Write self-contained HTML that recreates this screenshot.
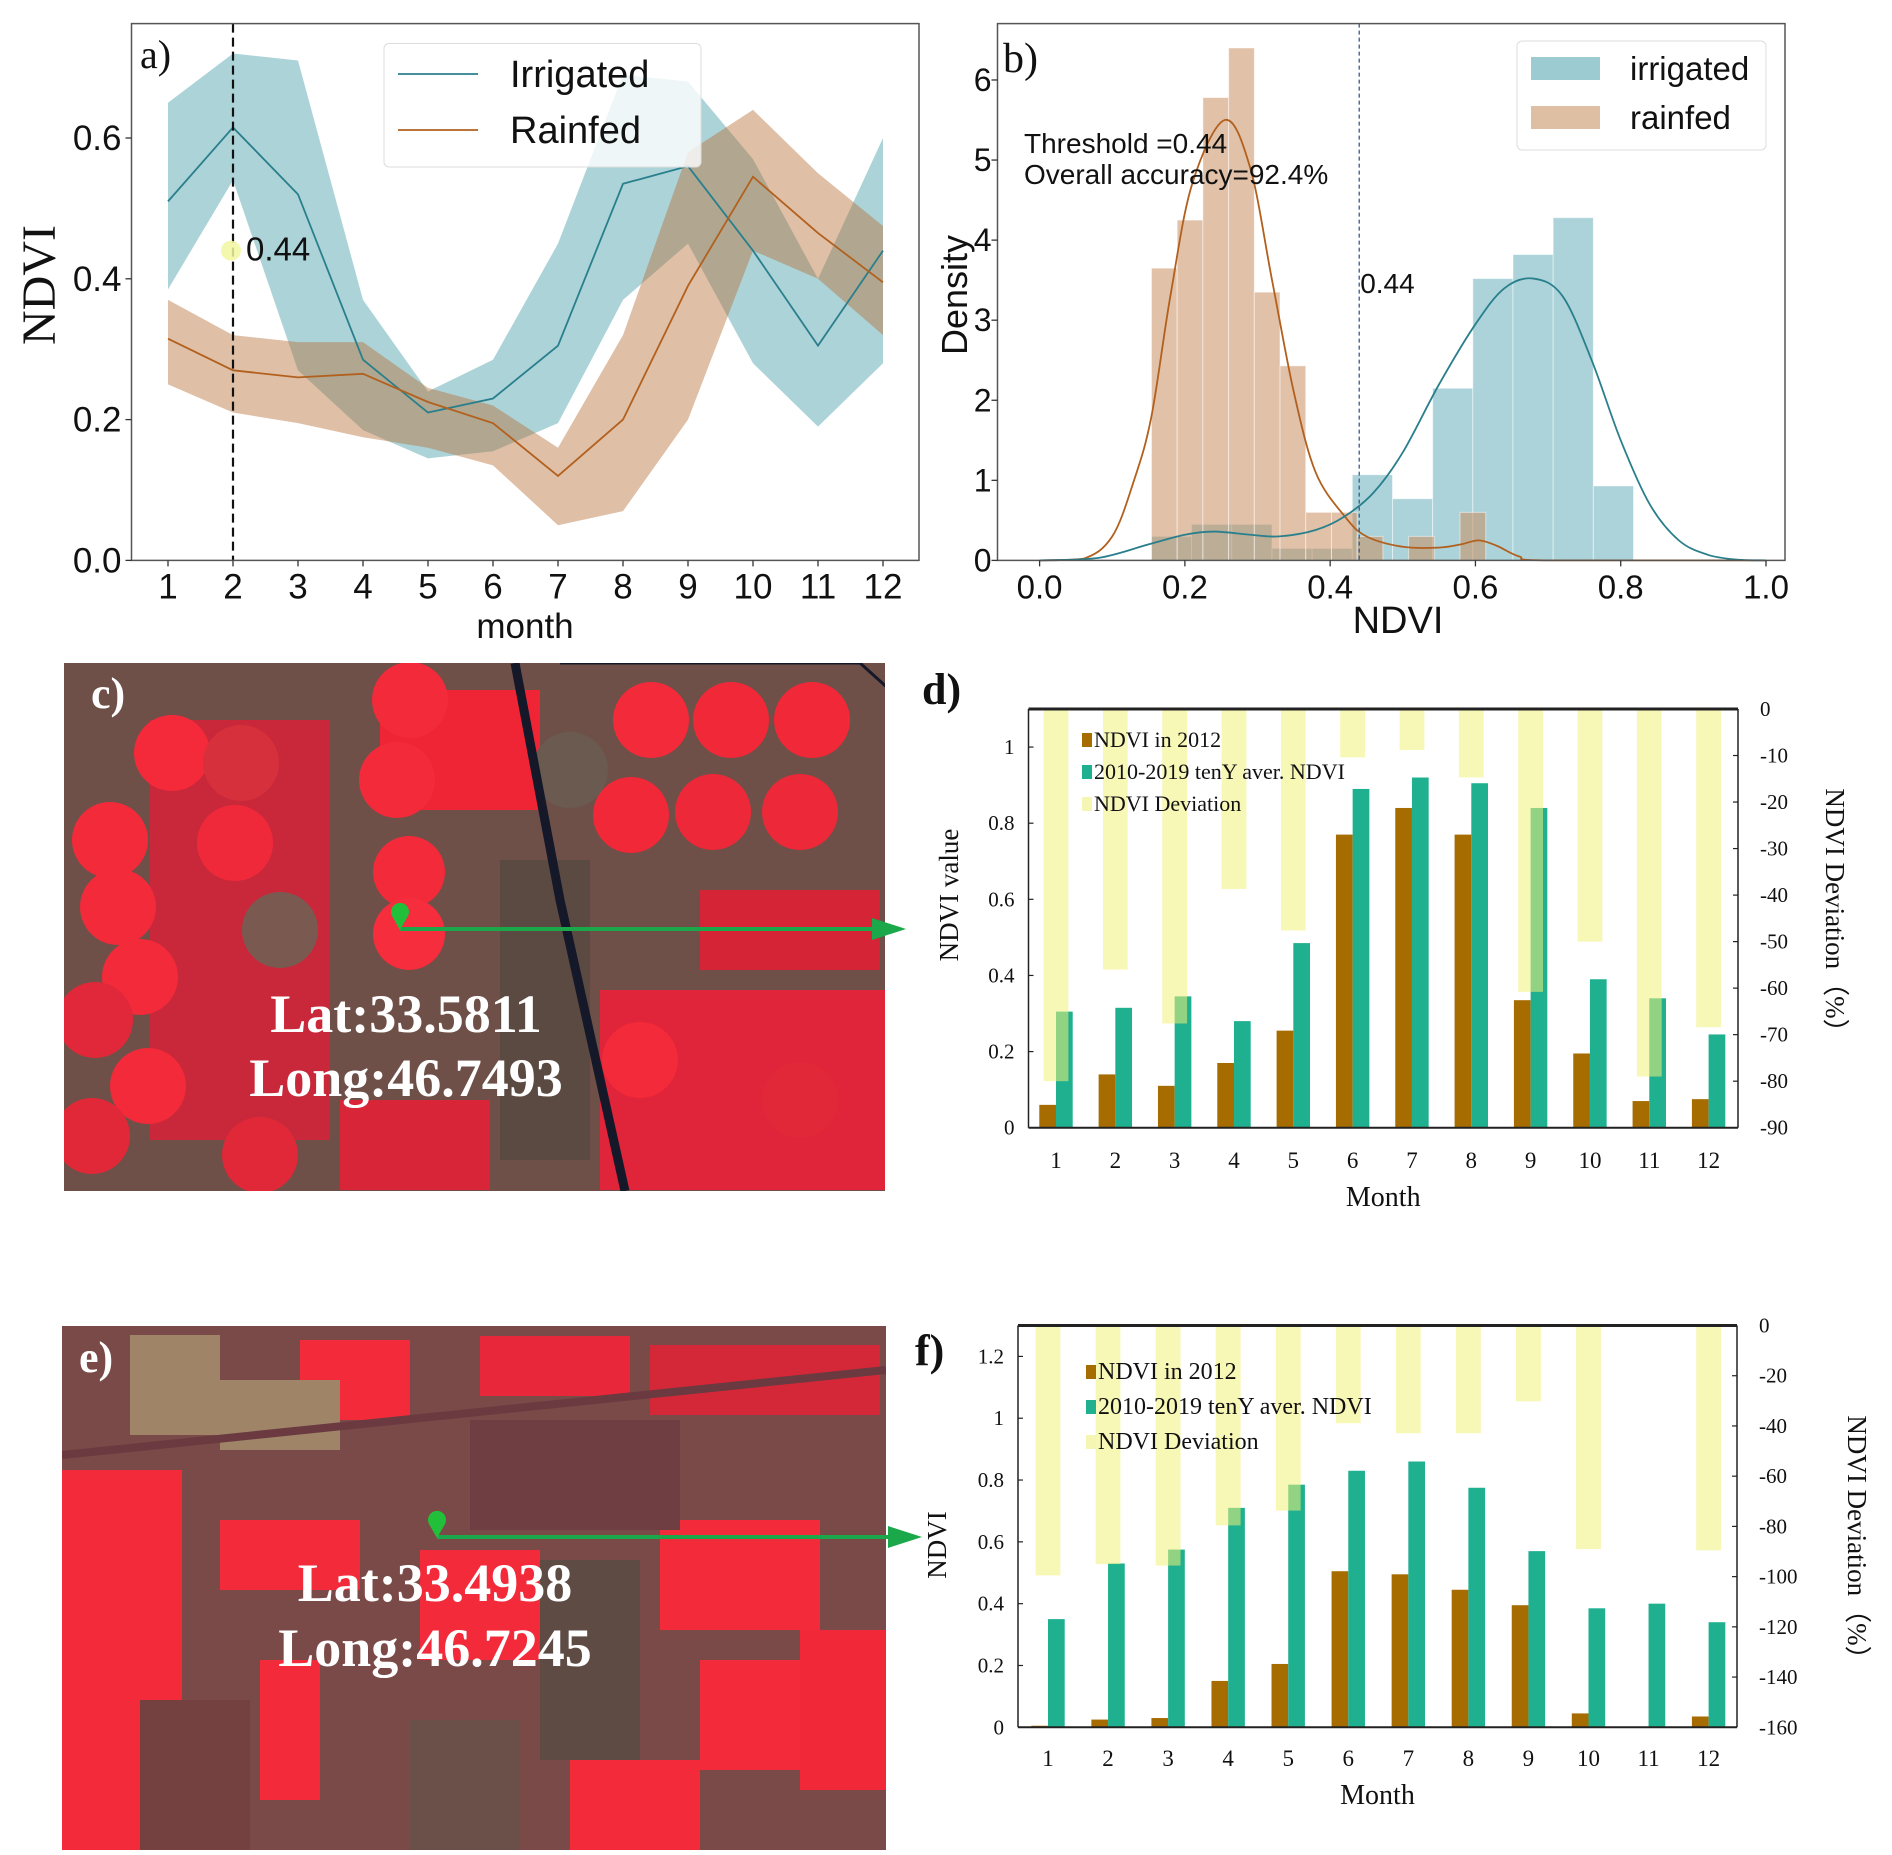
<!DOCTYPE html>
<html><head><meta charset="utf-8">
<style>
html,body{margin:0;padding:0;background:#fff;}
svg{display:block;}
.sans{font-family:"Liberation Sans",sans-serif;}
.serif{font-family:"Liberation Serif",serif;}
</style></head>
<body>
<svg id="root" xmlns="http://www.w3.org/2000/svg" width="1892" height="1855" viewBox="0 0 1892 1855">
<defs>
<clipPath id="clipC"><rect x="64" y="663" width="821" height="528"/></clipPath>
<clipPath id="clipE"><rect x="62" y="1326" width="824" height="524"/></clipPath>
</defs>
<!-- Photo c -->
<g clip-path="url(#clipC)">
<rect x="64" y="663" width="821" height="528" fill="#6e5048"/>
<rect x="150" y="720" width="180" height="420" fill="#c8283a"/>
<rect x="380" y="690" width="160" height="120" fill="#ef2536"/>
<rect x="500" y="860" width="90" height="300" fill="#5a4a42"/>
<rect x="700" y="890" width="180" height="80" fill="#d42435"/>
<rect x="600" y="990" width="290" height="200" fill="#e0243a"/>
<rect x="340" y="1100" width="150" height="90" fill="#d82538"/>
<circle cx="172" cy="753" r="38" fill="#f42a3a"/><circle cx="241" cy="763" r="38" fill="#d5303b"/>
<circle cx="235" cy="843" r="38" fill="#f0293a"/><circle cx="110" cy="840" r="38" fill="#f22a3a"/>
<circle cx="118" cy="907" r="38" fill="#f22a3a"/><circle cx="140" cy="977" r="38" fill="#f22a3a"/>
<circle cx="95" cy="1020" r="38" fill="#e0283a"/><circle cx="148" cy="1086" r="38" fill="#f22a3a"/>
<circle cx="92" cy="1136" r="38" fill="#e02838"/><circle cx="260" cy="1155" r="38" fill="#e02838"/>
<circle cx="397" cy="780" r="38" fill="#f22a3a"/><circle cx="410" cy="700" r="38" fill="#f22a3a"/>
<circle cx="409" cy="872" r="36" fill="#f22a3a"/><circle cx="409" cy="934" r="36" fill="#f52d3c"/>
<circle cx="651" cy="720" r="38" fill="#f22a3a"/><circle cx="731" cy="720" r="38" fill="#f02838"/>
<circle cx="812" cy="720" r="38" fill="#f02838"/><circle cx="631" cy="815" r="38" fill="#f02838"/>
<circle cx="713" cy="812" r="38" fill="#ed2838"/><circle cx="800" cy="812" r="38" fill="#ed2838"/>
<circle cx="640" cy="1060" r="38" fill="#f22a3a"/><circle cx="800" cy="1100" r="38" fill="#e02838"/>
<circle cx="570" cy="770" r="38" fill="#6a5a50"/><circle cx="280" cy="930" r="38" fill="#7a5a50"/>
<path d="M515 663 L560 900 L625 1191" stroke="#141828" stroke-width="9" fill="none"/>
<path d="M560 663 L860 663 L890 690" stroke="#141828" stroke-width="3" fill="none"/>
</g>
<!-- Photo e -->
<g clip-path="url(#clipE)">
<rect x="62" y="1326" width="824" height="524" fill="#7a4a48"/>
<rect x="130" y="1335" width="90" height="100" fill="#a08468"/>
<rect x="300" y="1340" width="110" height="80" fill="#f22a3a"/>
<rect x="220" y="1380" width="120" height="70" fill="#a08468"/>
<rect x="480" y="1336" width="150" height="60" fill="#e8283a"/>
<rect x="650" y="1345" width="230" height="70" fill="#d42838"/>
<rect x="62" y="1470" width="120" height="380" fill="#f22a3a"/>
<rect x="220" y="1520" width="140" height="70" fill="#f22a3a"/>
<rect x="420" y="1550" width="120" height="110" fill="#f22a3a"/>
<rect x="540" y="1560" width="100" height="200" fill="#5e4c44"/>
<rect x="660" y="1520" width="160" height="110" fill="#f22a3a"/>
<rect x="700" y="1660" width="110" height="110" fill="#f22a3a"/>
<rect x="570" y="1760" width="130" height="90" fill="#f22a3a"/>
<rect x="800" y="1630" width="86" height="160" fill="#f02838"/>
<rect x="260" y="1660" width="60" height="140" fill="#f22a3a"/>
<rect x="410" y="1720" width="110" height="130" fill="#6a5048"/>
<rect x="140" y="1700" width="110" height="150" fill="#744040"/>
<rect x="470" y="1420" width="210" height="110" fill="#6e3e42"/>
<path d="M62 1455 L886 1370" stroke="#6a3a40" stroke-width="8" fill="none"/>
</g>
<!-- Photo overlays -->
<text x="91" y="708" class="serif" font-size="44" font-weight="bold" fill="#fff">c)</text>
<text x="406" y="1032" class="serif" font-size="54" font-weight="bold" fill="#fff" text-anchor="middle">Lat:33.5811</text>
<text x="406" y="1096" class="serif" font-size="54" font-weight="bold" fill="#fff" text-anchor="middle">Long:46.7493</text>
<line x1="400" y1="929" x2="880" y2="929" stroke="#1aa84a" stroke-width="4"/>
<polygon points="872,918 906,929 872,940" fill="#1aa84a"/>
<path d="M400 930 L392 916 A9 9 0 1 1 408 916 Z" fill="#22c03a"/>
<text x="79" y="1372" class="serif" font-size="44" font-weight="bold" fill="#fff">e)</text>
<text x="435" y="1601" class="serif" font-size="54" font-weight="bold" fill="#fff" text-anchor="middle">Lat:33.4938</text>
<text x="435" y="1666" class="serif" font-size="54" font-weight="bold" fill="#fff" text-anchor="middle">Long:46.7245</text>
<line x1="437" y1="1537" x2="895" y2="1537" stroke="#1aa84a" stroke-width="4"/>
<polygon points="888,1526 922,1537 888,1548" fill="#1aa84a"/>
<path d="M437 1538 L429 1524 A9 9 0 1 1 445 1524 Z" fill="#22c03a"/>
<g id="gA"></g>
<g id="gB"></g>
<g id="gD"></g>
<g id="gF"></g>
</svg>
<script>
// ---------- Panel a data ----------
const monthsA = [1,2,3,4,5,6,7,8,9,10,11,12];
const irrMean = [0.51,0.615,0.52,0.285,0.21,0.23,0.305,0.535,0.56,0.44,0.305,0.44];
const irrUpper = [0.65,0.72,0.71,0.37,0.24,0.285,0.45,0.69,0.68,0.57,0.40,0.60];
const irrLower = [0.385,0.54,0.27,0.185,0.145,0.155,0.195,0.37,0.45,0.28,0.19,0.28];
const rfMean = [0.315,0.27,0.26,0.265,0.225,0.195,0.12,0.20,0.39,0.545,0.465,0.395];
const rfUpper = [0.37,0.32,0.31,0.31,0.245,0.22,0.16,0.32,0.58,0.64,0.55,0.475];
const rfLower = [0.25,0.21,0.195,0.175,0.16,0.135,0.05,0.07,0.20,0.44,0.40,0.32];
const ticksAy = [0.0,0.2,0.4,0.6];
const thresholdA = 0.44;
// ---------- Panel b data ----------
const irrBinStart = 0.154, irrBinWidth = 0.0553;
const irrHist = [0.3,0.45,0.45,0.15,0.15,1.07,0.77,2.15,3.52,3.82,4.28,0.93];
const rfBinStart = 0.154, rfBinWidth = 0.0354;
const rfHist = [3.65,4.25,5.78,6.4,3.35,2.43,0.6,0.6,0.3,0,0.3,0,0.6];
const rfKdeX = [0,0.06,0.10,0.13,0.154,0.18,0.21,0.255,0.29,0.32,0.35,0.38,0.42,0.45,0.50,0.55,0.58,0.605,0.63,0.66,0.70,1.0];
const rfKdeY = [0,0.02,0.3,1.0,1.8,3.3,4.7,5.5,4.9,3.5,2.1,1.1,0.55,0.3,0.17,0.16,0.2,0.25,0.18,0.05,0,0];
const irKdeX = [0,0.08,0.15,0.2,0.24,0.29,0.33,0.38,0.42,0.46,0.5,0.55,0.6,0.64,0.68,0.72,0.76,0.8,0.84,0.88,0.92,0.96,1.0];
const irKdeY = [0,0.03,0.2,0.32,0.36,0.32,0.3,0.38,0.55,0.85,1.35,2.2,2.95,3.4,3.52,3.3,2.5,1.5,0.7,0.25,0.07,0.01,0];
const ticksBx = [0.0,0.2,0.4,0.6,0.8,1.0];
const ticksBy = [0,1,2,3,4,5,6];
const thresholdB = 0.44;
// ---------- Panel d data ----------
const monthsD = [1,2,3,4,5,6,7,8,9,10,11,12];
const ndvi2012D = [0.06,0.14,0.11,0.17,0.255,0.77,0.84,0.77,0.335,0.195,0.07,0.075];
const tenYD = [0.305,0.315,0.345,0.28,0.485,0.89,0.92,0.905,0.84,0.39,0.34,0.245];
const devD = [-80,-56,-67.6,-38.7,-47.6,-10.4,-8.8,-14.7,-60.8,-50,-79,-68.4];
const ticksDl = [0,0.2,0.4,0.6,0.8,1];
const ticksDr = [0,-10,-20,-30,-40,-50,-60,-70,-80,-90];
// ---------- Panel f data ----------
const monthsF = [1,2,3,4,5,6,7,8,9,10,11,12];
const ndvi2012F = [0.005,0.025,0.03,0.15,0.205,0.505,0.495,0.445,0.395,0.045,0,0.035];
const tenYF = [0.35,0.53,0.575,0.71,0.785,0.83,0.86,0.775,0.57,0.385,0.4,0.34];
const devF = [-99.5,-95,-95.6,-79.6,-73.7,-38.9,-42.9,-42.9,-30.2,-89,0,-89.5];
const ticksFl = [0,0.2,0.4,0.6,0.8,1,1.2];
const ticksFr = [0,-20,-40,-60,-80,-100,-120,-140,-160];

const NS = "http://www.w3.org/2000/svg";
function mk(parent, tag, attrs, text){
  const e = document.createElementNS(NS, tag);
  for (const k in attrs) e.setAttribute(k, attrs[k]);
  if (text !== undefined) e.textContent = text;
  parent.appendChild(e);
  return e;
}

// ================= Panel a =================
(function(){
  const g = document.getElementById('gA');
  const L=131.5,R=919,T=23.6,B=560.4;
  const x = m => 168 + (m-1)*(883-168)/11;
  const y = v => B - v*(B-138)/0.6;
  const band = (up, lo) => monthsA.map((m,i)=>x(m)+','+y(up[i])).join(' ') + ' ' + monthsA.slice().reverse().map((m,j)=>{const i=monthsA.length-1-j;return x(m)+','+y(lo[i]);}).join(' ');
  let e = mk(g,'polygon',{points:band(irrUpper,irrLower),fill:'#3a95a2','fill-opacity':0.42});
  
  
  e = mk(g,'polygon',{points:band(rfUpper,rfLower),fill:'#b8703a','fill-opacity':0.45});
  
  
  e = mk(g,'polyline',{points:monthsA.map((m,i)=>x(m)+','+y(irrMean[i])).join(' '),fill:'none',stroke:'#2a7f8c','stroke-width':1.8});
  
  
  e = mk(g,'polyline',{points:monthsA.map((m,i)=>x(m)+','+y(rfMean[i])).join(' '),fill:'none',stroke:'#b2601e','stroke-width':1.8});
  
  
  e = mk(g,'line',{x1:x(2),x2:x(2),y1:T,y2:B,stroke:'#111','stroke-width':2.2,'stroke-dasharray':'9,5'});
  
  
  e = mk(g,'circle',{cx:x(2)-2,cy:y(thresholdA),r:10,fill:'#f2f7a0','fill-opacity':0.85});
  
  
  e = mk(g,'text',{x:x(2)+13,y:y(thresholdA)+10,'font-size':33,class:'sans',fill:'#111'},'0.44');
  
  
  e = mk(g,'rect',{x:L,y:T,width:R-L,height:B-T,fill:'none',stroke:'#555','stroke-width':1.5});
  
  
  ticksAy.forEach(v=>{
    mk(g,'line',{x1:L-6,x2:L,y1:y(v),y2:y(v),stroke:'#333','stroke-width':1.3});
    e = mk(g,'text',{x:L-10,y:y(v)+12,'font-size':35,'text-anchor':'end',class:'sans',fill:'#111'},v.toFixed(1));
    
    
  });
  monthsA.forEach(m=>{
    mk(g,'line',{x1:x(m),x2:x(m),y1:B,y2:B+6,stroke:'#333','stroke-width':1.3});
    e = mk(g,'text',{x:x(m),y:B+38,'font-size':35,'text-anchor':'middle',class:'sans',fill:'#111'},String(m));
    
    
  });
  e = mk(g,'text',{x:525,y:638,'font-size':35,'text-anchor':'middle',class:'sans',fill:'#111'},'month');
  
  
  e = mk(g,'text',{x:0,y:0,'font-size':48,'text-anchor':'middle',class:'serif',fill:'#111',transform:'translate(55,285) rotate(-90)'},'NDVI');
  
  
  e = mk(g,'text',{x:140,y:68,'font-size':40,class:'serif',fill:'#111'},'a)');
  
  
  e = mk(g,'rect',{x:384,y:43.5,width:317,height:123.5,rx:5,fill:'#fff','fill-opacity':0.8,stroke:'#ddd'});
  
  
  mk(g,'line',{x1:398,x2:478,y1:74,y2:74,stroke:'#2a7f8c','stroke-width':1.8});
  mk(g,'line',{x1:398,x2:478,y1:130,y2:130,stroke:'#b2601e','stroke-width':1.8});
  e = mk(g,'text',{x:510,y:87,'font-size':38,class:'sans',fill:'#111'},'Irrigated');
  
  
  e = mk(g,'text',{x:510,y:143,'font-size':38,class:'sans',fill:'#111'},'Rainfed');
  
  
})();

// ================= Panel b =================
(function(){
  const g = document.getElementById('gB');
  const L=997.5,R=1785,T=23.6,B=560.4;
  const x = v => 1039.6 + v*(1766-1039.6);
  const y = v => B - v*80.07;
  let e;
  irrHist.forEach((h,i)=>{
    if(!h) return;
    const x0 = irrBinStart + i*irrBinWidth;
    e = mk(g,'rect',{x:x(x0),y:y(h),width:x(x0+irrBinWidth)-x(x0),height:B-y(h),fill:'#9ccbd2','fill-opacity':0.85,stroke:'#fff','stroke-opacity':0.5,'stroke-width':1});
    
    
  });
  rfHist.forEach((h,i)=>{
    if(!h) return;
    const x0 = rfBinStart + i*rfBinWidth;
    e = mk(g,'rect',{x:x(x0),y:y(h),width:x(x0+rfBinWidth)-x(x0),height:B-y(h),fill:'#c98e5e','fill-opacity':0.55,stroke:'#fff','stroke-opacity':0.5,'stroke-width':1});
    
    
  });
  const smooth = (xs,ys)=>{
    const P = xs.map((v,i)=>[x(v),y(ys[i])]);
    let d = 'M'+P[0][0]+' '+P[0][1];
    for(let i=0;i<P.length-1;i++){
      const p0=P[Math.max(0,i-1)],p1=P[i],p2=P[i+1],p3=P[Math.min(P.length-1,i+2)];
      const c1x=p1[0]+(p2[0]-p0[0])/6, c1y=p1[1]+(p2[1]-p0[1])/6;
      const c2x=p2[0]-(p3[0]-p1[0])/6, c2y=p2[1]-(p3[1]-p1[1])/6;
      d += ' C'+c1x+' '+Math.min(B,c1y)+' '+c2x+' '+Math.min(B,c2y)+' '+p2[0]+' '+p2[1];
    }
    return d;
  };
  e = mk(g,'path',{d:smooth(rfKdeX,rfKdeY),fill:'none',stroke:'#b2601e','stroke-width':1.8});
  
  
  e = mk(g,'path',{d:smooth(irKdeX,irKdeY),fill:'none',stroke:'#2a7f8c','stroke-width':1.8});
  
  
  e = mk(g,'line',{x1:x(thresholdB),x2:x(thresholdB),y1:T,y2:B,stroke:'#3a5a8a','stroke-width':1.3,'stroke-dasharray':'4,3'});
  
  
  e = mk(g,'text',{x:x(thresholdB)+1,y:293,'font-size':28,class:'sans',fill:'#111'},'0.44');
  
  
  e = mk(g,'text',{x:1024,y:153,'font-size':28,class:'sans',fill:'#111'},'Threshold =0.44');
  
  
  e = mk(g,'text',{x:1024,y:184,'font-size':28,class:'sans',fill:'#111'},'Overall accuracy=92.4%');
  
  
  e = mk(g,'rect',{x:L,y:T,width:R-L,height:B-T,fill:'none',stroke:'#555','stroke-width':1.5});
  
  
  ticksBy.forEach(v=>{
    mk(g,'line',{x1:L-6,x2:L,y1:y(v),y2:y(v),stroke:'#333','stroke-width':1.3});
    e = mk(g,'text',{x:L-6,y:y(v)+11,'font-size':32,'text-anchor':'end',class:'sans',fill:'#111'},String(v));
    
    
  });
  ticksBx.forEach(v=>{
    mk(g,'line',{x1:x(v),x2:x(v),y1:B,y2:B+6,stroke:'#333','stroke-width':1.3});
    e = mk(g,'text',{x:x(v),y:B+38,'font-size':33,'text-anchor':'middle',class:'sans',fill:'#111'},v.toFixed(1));
    
    
  });
  e = mk(g,'text',{x:1398,y:633,'font-size':38,'text-anchor':'middle',class:'sans',fill:'#111'},'NDVI');
  
  
  e = mk(g,'text',{x:0,y:0,'font-size':36,'text-anchor':'middle',class:'sans',fill:'#111',transform:'translate(967,295) rotate(-90)'},'Density');
  
  
  e = mk(g,'text',{x:1003,y:72,'font-size':42,class:'serif',fill:'#111'},'b)');
  
  
  e = mk(g,'rect',{x:1517,y:41,width:249,height:109,rx:5,fill:'#fff','fill-opacity':0.8,stroke:'#ddd'});
  
  
  mk(g,'rect',{x:1531,y:57,width:69,height:23,fill:'#9ccbd2'});
  mk(g,'rect',{x:1531,y:106,width:69,height:23,fill:'#dfbfa3'});
  e = mk(g,'text',{x:1630,y:80,'font-size':33,class:'sans',fill:'#111'},'irrigated');
  
  
  e = mk(g,'text',{x:1630,y:129,'font-size':33,class:'sans',fill:'#111'},'rainfed');
  
  
})();

// ================= Bar panels d & f =================
function barPanel(gid, cfg){
  const g = document.getElementById(gid);
  const {L,R,T,B,m1,m12,lMax,rMin,months,a,b,dev,tl,tr,lfmt} = cfg;
  const x = m => m1 + (m-1)*(m12-m1)/11;
  const yl = v => B - v*(B-T)/lMax;
  const yr = v => T + (v/rMin)*(B-T);
  let e;
  months.forEach((m,i)=>{
    e = mk(g,'rect',{x:x(m)-16.7,y:yl(a[i]),width:16.7,height:B-yl(a[i]),fill:'#a66c00'});
    
    
    e = mk(g,'rect',{x:x(m),y:yl(b[i]),width:16.7,height:B-yl(b[i]),fill:'#1fb08f'});
    
    
  });
  months.forEach((m,i)=>{
    if(!dev[i]) return;
    e = mk(g,'rect',{x:x(m)-12.4,y:T,width:24.8,height:yr(dev[i])-T,fill:'#f0f07a','fill-opacity':0.55});
    
    
  });
  e = mk(g,'line',{x1:L,x2:R,y1:T,y2:T,stroke:'#222','stroke-width':3});
  e = mk(g,'line',{x1:L,x2:R,y1:B,y2:B,stroke:'#222','stroke-width':2});
  
  
  mk(g,'line',{x1:L,x2:L,y1:T,y2:B,stroke:'#222','stroke-width':1.5});
  mk(g,'line',{x1:R,x2:R,y1:T,y2:B,stroke:'#222','stroke-width':1.5});
  tl.forEach(v=>{
    mk(g,'line',{x1:L,x2:L+5,y1:yl(v),y2:yl(v),stroke:'#222','stroke-width':1.2});
    e = mk(g,'text',{x:L-14,y:yl(v)+7,'font-size':21,'text-anchor':'end',class:'serif',fill:'#111'},lfmt(v));
    
    
  });
  tr.forEach(v=>{
    mk(g,'line',{x1:R,x2:R-5,y1:yr(v),y2:yr(v),stroke:'#222','stroke-width':1.2});
    e = mk(g,'text',{x:R+22,y:yr(v)+7,'font-size':21,class:'serif',fill:'#111'},String(v));
    
    
  });
  months.forEach(m=>{
    e = mk(g,'text',{x:x(m),y:cfg.mY,'font-size':23,'text-anchor':'middle',class:'serif',fill:'#111'},String(m));
    
    
  });
  e = mk(g,'text',{x:(L+R)/2,y:cfg.mY+38,'font-size':28,'text-anchor':'middle',class:'serif',fill:'#111'},'Month');
  
  
  e = mk(g,'text',{x:0,y:0,'font-size':27,'text-anchor':'middle',class:'serif',fill:'#111',transform:'translate('+cfg.ltX+','+cfg.ltY+') rotate(-90)'},cfg.ltitle);
  
  
  e = mk(g,'text',{x:0,y:0,'font-size':27,'text-anchor':'middle',class:'serif',fill:'#111',transform:'translate('+cfg.rtX+','+cfg.rtY+') rotate(90)'},'NDVI Deviation（%）');
  
  
  const lx = cfg.legX, ly = cfg.legY, ls = cfg.legS;
  const items = [['#a66c00','NDVI in 2012'],['#1fb08f','2010-2019 tenY aver. NDVI'],['#f6f6b4','NDVI Deviation']];
  items.forEach((it,i)=>{
    mk(g,'rect',{x:lx,y:ly+i*ls-14,width:10,height:14,fill:it[0]});
    e = mk(g,'text',{x:lx+12,y:ly+i*ls,'font-size':cfg.legF,class:'serif',fill:'#111'},it[1]);
    
    
  });
  e = mk(g,'text',{x:cfg.pX,y:cfg.pY,'font-size':44,'font-weight':'bold',class:'serif',fill:'#111'},cfg.plabel);
  
  
}
barPanel('gD',{L:1028.5,R:1738,T:709,B:1127.7,m1:1056,m12:1708.6,lMax:1.1,rMin:-90,months:monthsD,a:ndvi2012D,b:tenYD,dev:devD,tl:ticksDl,tr:ticksDr,lfmt:v=>String(Math.round(v*10)/10),mY:1168,ltitle:'NDVI value',ltX:958,ltY:895,rtX:1826,rtY:917,legX:1082,legY:747,legS:32,legF:22,pX:922,pY:704,plabel:'d)'});
barPanel('gF',{L:1018,R:1737,T:1325.5,B:1727.3,m1:1048,m12:1708.6,lMax:1.3,rMin:-160,months:monthsF,a:ndvi2012F,b:tenYF,dev:devF,tl:ticksFl,tr:ticksFr,lfmt:v=>String(Math.round(v*10)/10),mY:1766,ltitle:'NDVI',ltX:946,ltY:1545,rtX:1848,rtY:1544,legX:1086,legY:1379,legS:35,legF:24,pX:915,pY:1365,plabel:'f)'});
</script>
</body></html>
